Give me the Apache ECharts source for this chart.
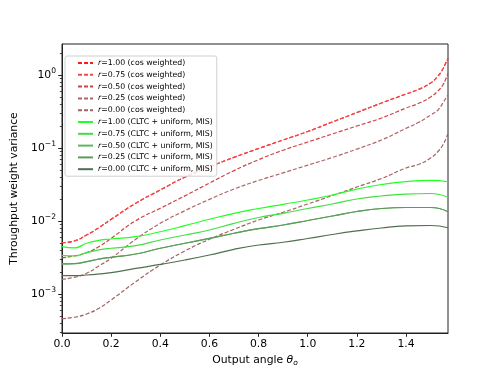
<!DOCTYPE html>
<html>
<head>
<meta charset="utf-8">
<script src="https://cdn.jsdelivr.net/npm/echarts@6/dist/echarts.min.js"></script>
<style>
  html, body { margin: 0; padding: 0; background: #fff; }
  #chart { width: 498px; height: 374px; }
</style>
</head>
<body>
<div id="chart"></div>
<script>
// output angle samples (rad)
const xCos = [0, 0.05, 0.1, 0.15, 0.2, 0.3, 0.4, 0.5, 0.6, 0.7, 0.8, 0.9, 1.0, 1.1, 1.2, 1.3, 1.4, 1.45, 1.5, 1.53, 1.55, 1.56, 1.5708];
const xMis = [0, 0.05, 0.1, 0.15, 0.2, 0.3, 0.4, 0.5, 0.6, 0.7, 0.8, 0.9, 1.0, 1.1, 1.2, 1.3, 1.4, 1.5, 1.5708];

// cos weighted
const cos100 = [5.04e-3, 5.32e-3, 6.43e-3, 8.09e-3, 1.055e-2, 1.747e-2, 2.66e-2, 3.98e-2, 5.52e-2, 7.45e-2, 9.84e-2, 0.1288, 0.1683, 0.227, 0.306, 0.413, 0.549, 0.633, 0.777, 0.969, 1.21, 1.42, 1.69];
const cos075 = [5.04e-3, 5.32e-3, 6.43e-3, 8.09e-3, 1.055e-2, 1.747e-2, 2.66e-2, 3.98e-2, 5.52e-2, 7.45e-2, 9.84e-2, 0.1288, 0.1683, 0.227, 0.306, 0.413, 0.549, 0.633, 0.777, 0.969, 1.21, 1.42, 1.69];
const cos050 = [3.14e-3, 3.32e-3, 3.68e-3, 4.45e-3, 5.79e-3, 1.009e-2, 1.493e-2, 2.21e-2, 3.31e-2, 4.90e-2, 6.92e-2, 9.33e-2, 0.1208, 0.1555, 0.200, 0.2576, 0.353, 0.407, 0.500, 0.604, 0.730, 0.855, 1.055];
const cos025 = [1.59e-3, 1.69e-3, 1.92e-3, 2.42e-3, 3.08e-3, 5.61e-3, 9.29e-3, 1.383e-2, 1.98e-2, 2.74e-2, 3.59e-2, 4.57e-2, 5.82e-2, 7.41e-2, 9.66e-2, 0.1288, 0.186, 0.223, 0.283, 0.332, 0.413, 0.469, 0.532];
const cos000 = [4.59e-4, 4.80e-4, 5.32e-4, 6.37e-4, 8.28e-4, 1.47e-3, 2.49e-3, 3.88e-3, 5.61e-3, 7.69e-3, 1.032e-2, 1.316e-2, 1.710e-2, 2.23e-2, 2.92e-2, 3.82e-2, 5.32e-2, 5.94e-2, 7.29e-2, 8.95e-2, 0.110, 0.1288, 0.159];

// CLTC + uniform, MIS
const mis100 = [4.45e-3, 4.27e-3, 4.95e-3, 5.44e-3, 5.67e-3, 6.10e-3, 7.13e-3, 8.62e-3, 1.055e-2, 1.274e-2, 1.483e-2, 1.693e-2, 1.94e-2, 2.27e-2, 2.74e-2, 3.16e-2, 3.47e-2, 3.59e-2, 3.45e-2];
const mis075 = [3.39e-3, 3.32e-3, 3.68e-3, 4.01e-3, 4.23e-3, 4.59e-3, 5.49e-3, 6.43e-3, 7.53e-3, 9.29e-3, 1.117e-2, 1.274e-2, 1.483e-2, 1.710e-2, 2.00e-2, 2.20e-2, 2.34e-2, 2.38e-2, 2.11e-2];
const mis050 = [2.58e-3, 2.60e-3, 2.77e-3, 3.01e-3, 3.18e-3, 3.53e-3, 4.23e-3, 4.95e-3, 5.79e-3, 6.79e-3, 7.85e-3, 8.82e-3, 1.016e-2, 1.171e-2, 1.349e-2, 1.483e-2, 1.531e-2, 1.531e-2, 1.34e-2];
const mis025 = [2.58e-3, 2.60e-3, 2.77e-3, 3.01e-3, 3.18e-3, 3.53e-3, 4.23e-3, 4.95e-3, 5.79e-3, 6.79e-3, 7.85e-3, 8.82e-3, 1.016e-2, 1.171e-2, 1.349e-2, 1.483e-2, 1.531e-2, 1.531e-2, 1.34e-2];
const mis000 = [1.78e-3, 1.78e-3, 1.82e-3, 1.88e-3, 1.96e-3, 2.24e-3, 2.54e-3, 2.92e-3, 3.42e-3, 4.09e-3, 4.69e-3, 5.11e-3, 5.75e-3, 6.53e-3, 7.30e-3, 8.02e-3, 8.55e-3, 8.68e-3, 8.09e-3];

const xTicks = [0, 0.2, 0.4, 0.6, 0.8, 1.0, 1.2, 1.4];
const yTicks = [1e-3, 1e-2, 1e-1, 1];
const xRange = [0, Math.PI / 2];
const yRange = [2.92e-4, 2.66];

const lg = Math.log10;
let yMinor = [];
for (let e = -4; e <= 0; e++) {
  for (let k = 2; k <= 9; k++) {
    const v = k * Math.pow(10, e);
    if (v >= yRange[0] && v <= yRange[1]) yMinor.push(lg(v));
  }
}

const chart = echarts.init(document.getElementById('chart'));

const mkSeries = (name, xs, ys, color, dashed) => ({
  name: name,
  type: 'line',
  symbol: 'none',
  smooth: 0.5,
  animation: false,
  lineStyle: { color: color, width: 1.2, type: dashed ? [4, 2] : 'solid' },
  itemStyle: { color: color },
  data: xs.map((x, i) => [x, lg(ys[i])])
});

const series = [
  mkSeries('r=1.00 (cos weighted)', xCos, cos100, '#ff1a1a', true),
  mkSeries('r=0.75 (cos weighted)', xCos, cos075, '#f04a4a', true),
  mkSeries('r=0.50 (cos weighted)', xCos, cos050, '#cc4545', true),
  mkSeries('r=0.25 (cos weighted)', xCos, cos025, '#b06565', true),
  mkSeries('r=0.00 (cos weighted)', xCos, cos000, '#a06262', true),
  mkSeries('r=1.00 (CLTC + uniform, MIS)', xMis, mis100, '#22ff22', false),
  mkSeries('r=0.75 (CLTC + uniform, MIS)', xMis, mis075, '#40e040', false),
  mkSeries('r=0.50 (CLTC + uniform, MIS)', xMis, mis050, '#5cb85c', false),
  mkSeries('r=0.25 (CLTC + uniform, MIS)', xMis, mis025, '#5f9a5f', false),
  mkSeries('r=0.00 (CLTC + uniform, MIS)', xMis, mis000, '#4f704f', false)
];

const font = 'DejaVu Sans';

const option = {
  backgroundColor: '#fff',
  animation: false,
  grid: {
    left: 62, right: 50, top: 44, bottom: 41,
    show: true, borderColor: '#222', borderWidth: 1, backgroundColor: 'transparent'
  },
  legend: {
    orient: 'vertical',
    left: 65, top: 56,
    padding: [3, 4, 3, 12],
    itemWidth: 15, itemHeight: 8, itemGap: 3.8,
    backgroundColor: 'rgba(255,255,255,0.8)',
    borderColor: '#d0d0d0', borderWidth: 1, borderRadius: 2,
    data: series.map(s => s.name),
    itemStyle: { color: 'transparent', borderColor: 'transparent', borderWidth: 0, opacity: 0 },
    formatter: name => '{i|r}' + name.slice(1),
    textStyle: {
      fontFamily: font, fontSize: 7.8, color: '#000', lineHeight: 8,
      rich: { i: { fontFamily: font, fontSize: 7.8, fontStyle: 'italic', color: '#000' } }
    }
  },
  xAxis: {
    type: 'value', min: xRange[0], max: xRange[1],
    name: 'Output angle {it|θ}{sub|o}',
    nameLocation: 'middle', nameGap: 20,
    nameTextStyle: {
      fontFamily: font, fontSize: 10.8, color: '#000',
      rich: {
        it: { fontFamily: font, fontSize: 10.8, fontStyle: 'italic', color: '#000' },
        sub: { fontFamily: font, fontSize: 7.5, fontStyle: 'italic', color: '#000', verticalAlign: 'bottom', padding: [6, 0, 0, 0] }
      }
    },
    splitLine: { show: false },
    axisLine: { show: true, onZero: false, lineStyle: { color: '#222', width: 1 } },
    axisTick: { show: true, inside: false, length: 3.8, customValues: xTicks, lineStyle: { color: '#222' } },
    axisLabel: {
      customValues: xTicks, margin: 6,
      fontFamily: font, fontSize: 10.8, color: '#000',
      formatter: v => v.toFixed(1)
    }
  },
  yAxis: [{
    type: 'value', min: lg(yRange[0]), max: lg(yRange[1]),
    name: 'Throughput weight variance',
    nameLocation: 'middle', nameGap: 38,
    nameTextStyle: { fontFamily: font, fontSize: 10.8, color: '#000' },
    splitLine: { show: false },
    axisLine: { show: true, onZero: false, lineStyle: { color: '#222', width: 1 } },
    axisTick: { show: true, inside: false, length: 3.8, customValues: yTicks.map(lg), lineStyle: { color: '#222' } },
    axisLabel: {
      customValues: yTicks.map(lg), margin: 6,
      fontFamily: font, fontSize: 10.8, color: '#000',
      formatter: v => {
        const e = Math.round(v);
        return '{b|10}{s|' + (e < 0 ? '\u2212' + (-e) : e) + '}';
      },
      rich: {
        b: { fontFamily: font, fontSize: 10.8, color: '#000', lineHeight: 16 },
        s: { fontFamily: font, fontSize: 7.6, color: '#000', verticalAlign: 'top', lineHeight: 10 }
      }
    }
  }, {
    type: 'value', min: lg(yRange[0]), max: lg(yRange[1]),
    position: 'left',
    splitLine: { show: false },
    axisLine: { show: false, onZero: false },
    axisTick: { show: true, inside: false, length: 2.2, customValues: yMinor, lineStyle: { color: '#222', width: 0.8 } },
    axisLabel: { show: false }
  }],
  series: series
};

chart.setOption(option);
</script>
</body>
</html>
